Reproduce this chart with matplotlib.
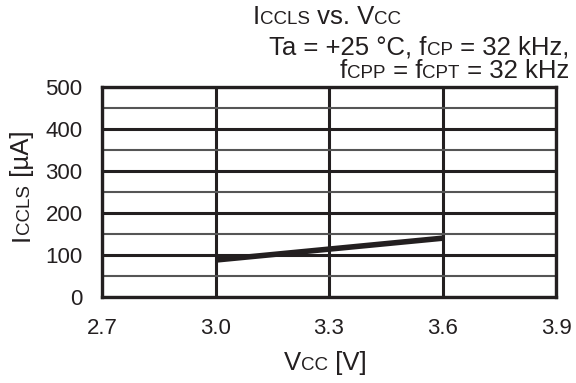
import matplotlib
matplotlib.use('Agg')
import matplotlib.pyplot as plt

# data
vcc = [3.0, 3.3, 3.6]
iccls = [88, 114, 140]
x_ticks = [2.7, 3.0, 3.3, 3.6, 3.9]
x_labels = ['2.7', '3.0', '3.3', '3.6', '3.9']
y_ticks = [0, 100, 200, 300, 400, 500]
y_minor = [50, 150, 250, 350, 450]

plt.rcParams['font.family'] = ['Liberation Sans', 'DejaVu Sans']
INK = '#231f20'
TICK = 16
BIG = 18.5
SMALL = 13.5

W, H = 576, 383
fig = plt.figure(figsize=(W / 100, H / 100), dpi=100)
ax = fig.add_axes([102 / W, 86 / H, 454 / W, 210 / H])
renderer = fig.canvas.get_renderer()


def advance(s, size):
    """
    width of a string in pixels, spaces and bearings included
    """
    a = fig.text(0, 0, s + '|', fontsize=size)
    b = fig.text(0, 0, '|', fontsize=size)
    w = a.get_window_extent(renderer).width - b.get_window_extent(renderer).width
    a.remove()
    b.remove()
    return w


def rich(x, y, parts, ha='left', rotation=0):
    """
    draws text made of pieces of different size, x/y in pixels from top-left
    """
    y = H - y
    widths = [advance(s, size) for s, size in parts]
    total = sum(widths)
    if ha == 'center':
        pos = -total / 2
    elif ha == 'right':
        pos = -total
    else:
        pos = 0
    for (s, size), w in zip(parts, widths):
        xy = (x, y + pos) if rotation == 90 else (x + pos, y)
        fig.text(xy[0], xy[1], s, fontsize=size, color=INK, transform=None,
                 ha='left', va='baseline', rotation=rotation,
                 rotation_mode='anchor')
        pos += w


ax.plot(vcc, iccls, color=INK, lw=4, solid_capstyle='butt')

ax.set_xlim(2.7, 3.9)
ax.set_ylim(0, 500)
ax.set_xticks(x_ticks)
ax.set_xticklabels(x_labels)
ax.set_yticks(y_ticks)
ax.set_yticks(y_minor, minor=True)
ax.tick_params(axis='both', which='both', length=0, labelsize=TICK, colors=INK)
ax.tick_params(axis='x', pad=15)
ax.tick_params(axis='y', pad=14)
ax.grid(True, which='major', color=INK, lw=2.2)
ax.grid(True, which='minor', axis='y', color='#555555', lw=1.5)
for sp in ax.spines.values():
    sp.set_color(INK)
    sp.set_linewidth(2.4)

cx = (102 + 556) / 2
rich(cx - 2, 24, [('I', BIG), ('CCLS', SMALL), (' vs. V', BIG), ('CC', SMALL)], ha='center')
rich(569, 55, [('Ta = +25 °C, f', BIG), ('CP', SMALL), (' = 32 kHz,', BIG)], ha='right')
rich(569, 78, [('f', BIG), ('CPP', SMALL), (' = f', BIG), ('CPT', SMALL), (' = 32 kHz', BIG)], ha='right')
rich(cx - 4, 370, [('V', BIG), ('CC', SMALL), (' [V]', BIG)], ha='center')
rich(29, 186, [('I', BIG), ('CCLS', SMALL), (' [µA]', BIG)], ha='center', rotation=90)

fig.savefig('out.png', dpi=100)
